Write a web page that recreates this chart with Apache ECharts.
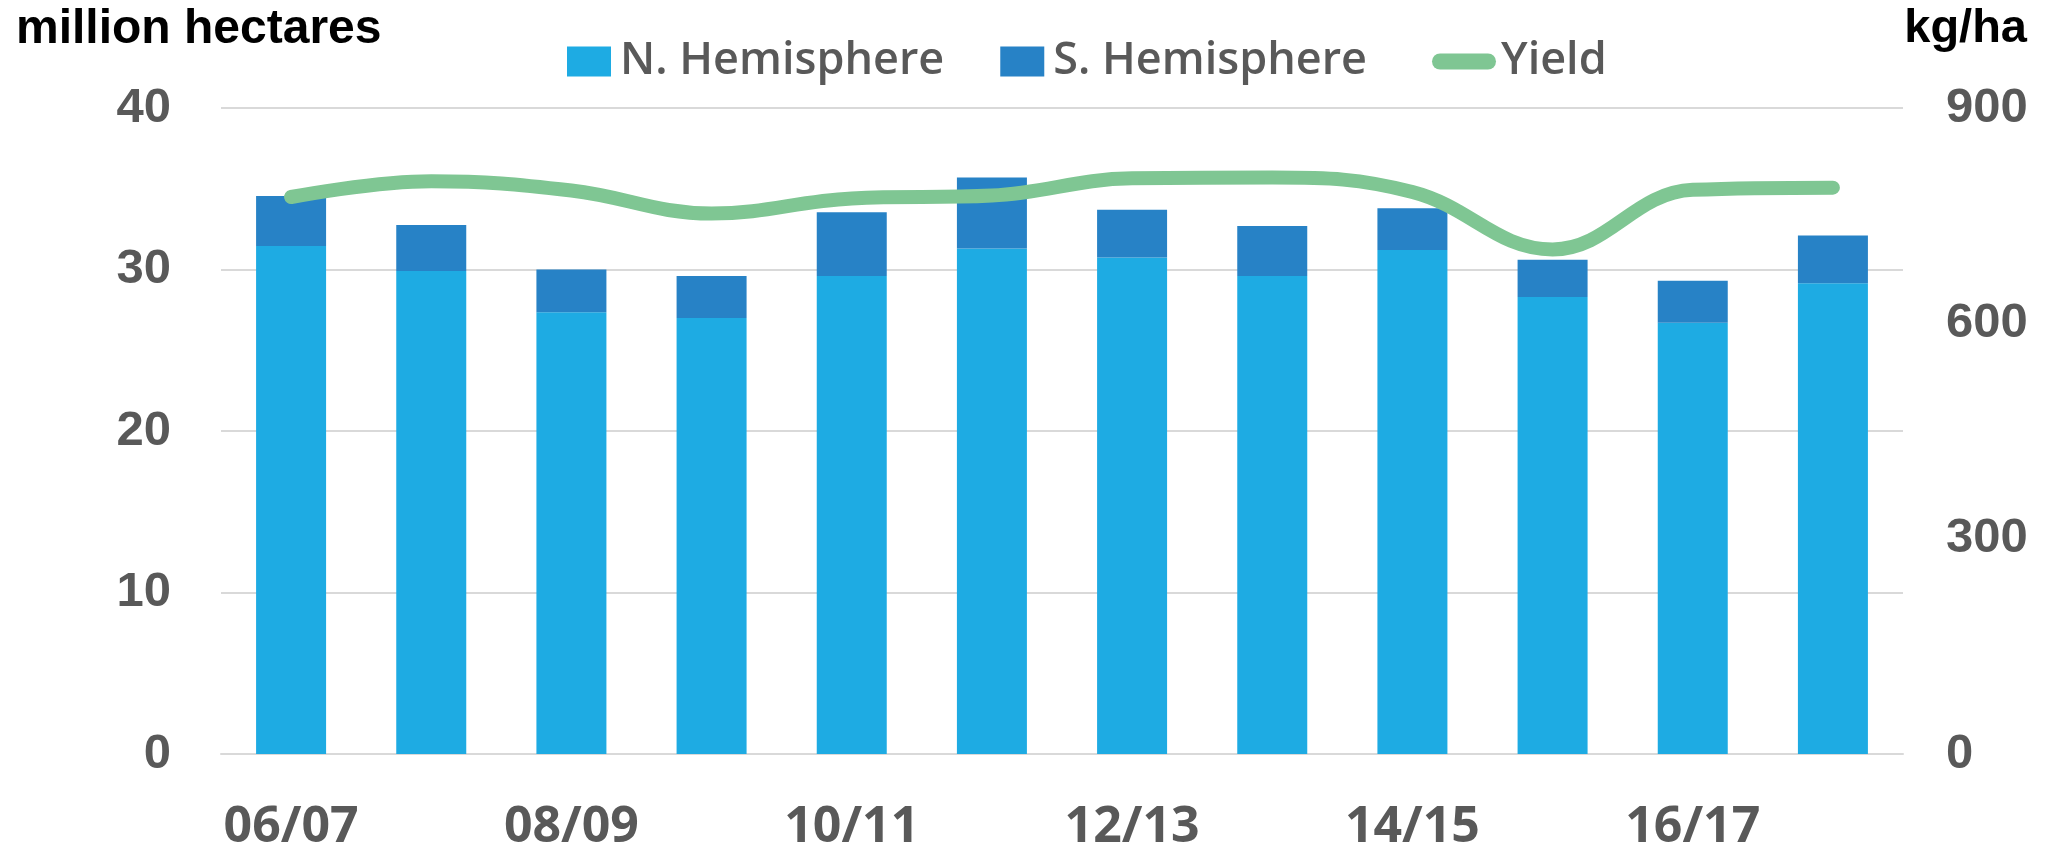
<!DOCTYPE html>
<html>
<head>
<meta charset="utf-8">
<script src="https://cdn.jsdelivr.net/npm/echarts@6/dist/echarts.min.js"></script>
<style>
  html, body { margin: 0; padding: 0; background: #ffffff; }
  #chart { width: 2060px; height: 850px; }
</style>
</head>
<body>
<div id="chart"></div>
<script>
// marketing years
const seasons = ['06/07', '07/08', '08/09', '09/10', '10/11', '11/12',
                 '12/13', '13/14', '14/15', '15/16', '16/17', '17/18']
// harvested area, million hectares
const northArea = [31.45, 29.9, 27.35, 27.0, 29.6, 31.3, 30.75, 29.6, 31.2, 28.3, 26.7, 29.15]
const southArea = [3.1, 2.85, 2.65, 2.6, 3.95, 4.4, 2.95, 3.1, 2.6, 2.3, 2.6, 2.95]
// yield, kg/ha
const yieldKg = [776, 798, 785, 753, 774, 778, 802, 803, 783, 703, 786, 789]

const leftTicks = { min: 0, max: 40, interval: 10 }
const rightTicks = { min: 0, max: 900, interval: 300 }

const grey = '#595959'
const font = '"Liberation Sans", Arial, sans-serif'
const uiFont = '"Open Sans", "Liberation Sans", sans-serif'

const chart = echarts.init(document.getElementById('chart'), null, { renderer: 'canvas' })

const option = {
  animation: false,
  backgroundColor: '#ffffff',
  textStyle: { fontFamily: font },
  grid: { left: 221, right: 157, top: 108, bottom: 96, outerBoundsMode: 'none' },
  legend: [
    {
      data: ['N. Hemisphere', 'S. Hemisphere'],
      left: 562,
      top: 34,
      icon: 'rect',
      itemWidth: 44,
      itemHeight: 30,
      itemGap: 56,
      textStyle: { fontSize: 45, fontWeight: 600, color: grey, fontFamily: uiFont, padding: [0, 0, 0, 4] }
    },
    {
      data: ['Yield'],
      left: 1427,
      top: 34,
      icon: 'path://M8,0 H56 A8,8 0 0 1 56,16 H8 A8,8 0 0 1 8,0 Z',
      itemWidth: 64,
      itemHeight: 16,
      textStyle: { fontSize: 45, fontWeight: 600, color: grey, fontFamily: uiFont }
    }
  ],
  xAxis: {
    type: 'category',
    data: seasons,
    axisTick: { show: false },
    axisLine: { lineStyle: { color: '#d9d9d9', width: 2 } },
    axisLabel: {
      interval: 1,
      margin: 49,
      fontSize: 50,
      fontWeight: 'bold',
      color: grey,
      fontFamily: uiFont
    }
  },
  yAxis: [
    {
      type: 'value',
      min: leftTicks.min,
      max: leftTicks.max,
      interval: leftTicks.interval,
      axisLine: { show: false },
      axisTick: { show: false },
      splitLine: { lineStyle: { color: '#d9d9d9', width: 2 } },
      axisLabel: { margin: 50, fontSize: 49, fontWeight: 'bold', color: grey, fontFamily: font }
    },
    {
      type: 'value',
      min: rightTicks.min,
      max: rightTicks.max,
      interval: rightTicks.interval,
      axisLine: { show: false },
      axisTick: { show: false },
      splitLine: { show: false },
      axisLabel: { margin: 43, fontSize: 49, fontWeight: 'bold', color: grey, fontFamily: font }
    }
  ],
  graphic: [
    {
      type: 'text',
      left: 16,
      top: 6,
      style: { text: 'million hectares', font: 'bold 48px ' + font, fill: '#000000' }
    },
    {
      type: 'text',
      right: 33,
      top: 6,
      style: { text: 'kg/ha', font: 'bold 47px ' + font, fill: '#000000' }
    }
  ],
  series: [
    {
      name: 'N. Hemisphere',
      type: 'bar',
      stack: 'area',
      barWidth: 70,
      itemStyle: { color: '#1eabe3' },
      data: northArea
    },
    {
      name: 'S. Hemisphere',
      type: 'bar',
      stack: 'area',
      barWidth: 70,
      itemStyle: { color: '#2782c6' },
      data: southArea
    },
    {
      name: 'Yield',
      type: 'line',
      yAxisIndex: 1,
      smooth: 0.4,
      showSymbol: false,
      z: 5,
      itemStyle: { color: '#7fc693' },
      lineStyle: { color: '#7fc693', width: 14, cap: 'round', join: 'round' },
      data: yieldKg
    }
  ]
}

chart.setOption(option)
</script>
</body>
</html>
